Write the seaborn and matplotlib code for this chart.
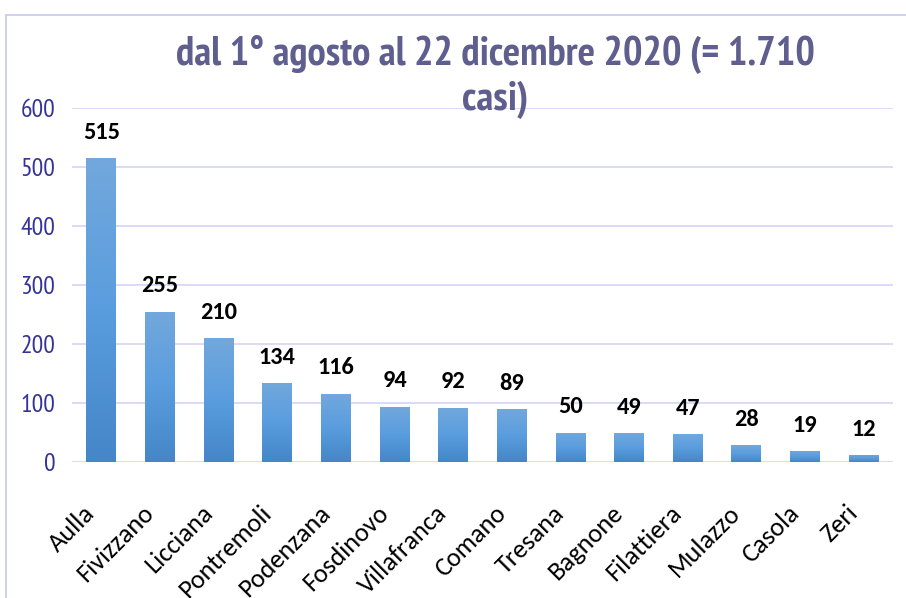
import numpy as np
import pandas as pd
import matplotlib
matplotlib.use("Agg")
import matplotlib.pyplot as plt
from matplotlib.lines import Line2D
from matplotlib.colors import LinearSegmentedColormap
from matplotlib.transforms import ScaledTranslation
import seaborn as sns

comuni = ["Aulla", "Fivizzano", "Licciana", "Pontremoli", "Podenzana", "Fosdinovo",
          "Villafranca", "Comano", "Tresana", "Bagnone", "Filattiera", "Mulazzo",
          "Casola", "Zeri"]
casi = [515, 255, 210, 134, 116, 94, 92, 89, 50, 49, 47, 28, 19, 12]
yticks = [0, 100, 200, 300, 400, 500, 600]
title_l1 = "dal 1° agosto al 22 dicembre 2020 (= 1.710"
title_l2 = "casi)"

sns.set_theme(style="white")
narrow = ["PT Sans Narrow", "DejaVu Sans"]
calibri = ["Carlito", "DejaVu Sans"]
plt.rcParams["font.family"] = calibri

df = pd.DataFrame({"comune": comuni, "casi": casi})

fig = plt.figure(figsize=(9.06, 5.98), dpi=100)
ax = fig.add_axes([72/906, 1-462/598, (893-72)/906, (462-108)/598])

sns.barplot(data=df, x="comune", y="casi", color="#5b9bd5", width=0.51, ax=ax,
            saturation=1, zorder=3)

ax.set_ylim(0, 600)
ax.set_xlim(-0.5, len(comuni)-0.5)
ax.set_yticks(yticks)
ax.set_yticklabels([str(v) for v in yticks], fontsize=18.5, color="#333399", family=narrow)
ax.tick_params(axis="y", length=0, pad=12)
ax.tick_params(axis="x", length=0, pad=34)
ax.set_xticks(range(len(comuni)))
ax.set_xticklabels(comuni, rotation=45, ha="right", va="center", rotation_mode="anchor",
                   fontsize=19, color="#000000", family=calibri)
shift = ScaledTranslation(-10/100, 0, fig.dpi_scale_trans)
for lbl in ax.get_xticklabels():
    lbl.set_transform(lbl.get_transform() + shift)
ax.set_xlabel("")
ax.set_ylabel("")
for s in ax.spines.values():
    s.set_visible(False)
ax.yaxis.grid(True, color="#d4d4f7", linewidth=1.2, zorder=0)
ax.set_axisbelow(True)

# gradient fill on bars
grad = np.linspace(0, 1, 256).reshape(-1, 1)
cmap = LinearSegmentedColormap.from_list("g", ["#4486c7", "#5a9ddf", "#72a8dc"])
for p in ax.patches:
    x0, y0 = p.get_x(), p.get_y()
    w, h = p.get_width(), p.get_height()
    p.set_facecolor("none")
    p.set_edgecolor("none")
    im = ax.imshow(grad, extent=[x0, x0+w, y0, y0+h], origin="lower", cmap=cmap,
                   aspect="auto", zorder=3)
    im.set_clip_path(p)
    ax.annotate(str(int(round(h))), (x0 + w/2, h), xytext=(0, 11),
                textcoords="offset points", ha="center", va="bottom",
                fontsize=17.5, fontweight="bold", color="black", zorder=4,
                family=calibri)
ax.set_xlim(-0.5, len(comuni)-0.5)
ax.set_ylim(0, 600)

fig.text(495/906, 1-55/598, title_l1, ha="center", va="center", fontsize=29.5,
         fontweight="bold", color="#5f5f8f", family=narrow)
fig.text(495/906, 1-100/598, title_l2, ha="center", va="center", fontsize=29.5,
         fontweight="bold", color="#5f5f8f", family=narrow)

# outer frame
fig.add_artist(Line2D([6/906, 1], [1-15/598, 1-15/598], color="#c8c8f0", lw=1.2,
                      transform=fig.transFigure))
fig.add_artist(Line2D([6/906, 6/906], [0, 1-15/598], color="#c8c8f0", lw=1.2,
                      transform=fig.transFigure))

fig.savefig("out.png", dpi=100)
